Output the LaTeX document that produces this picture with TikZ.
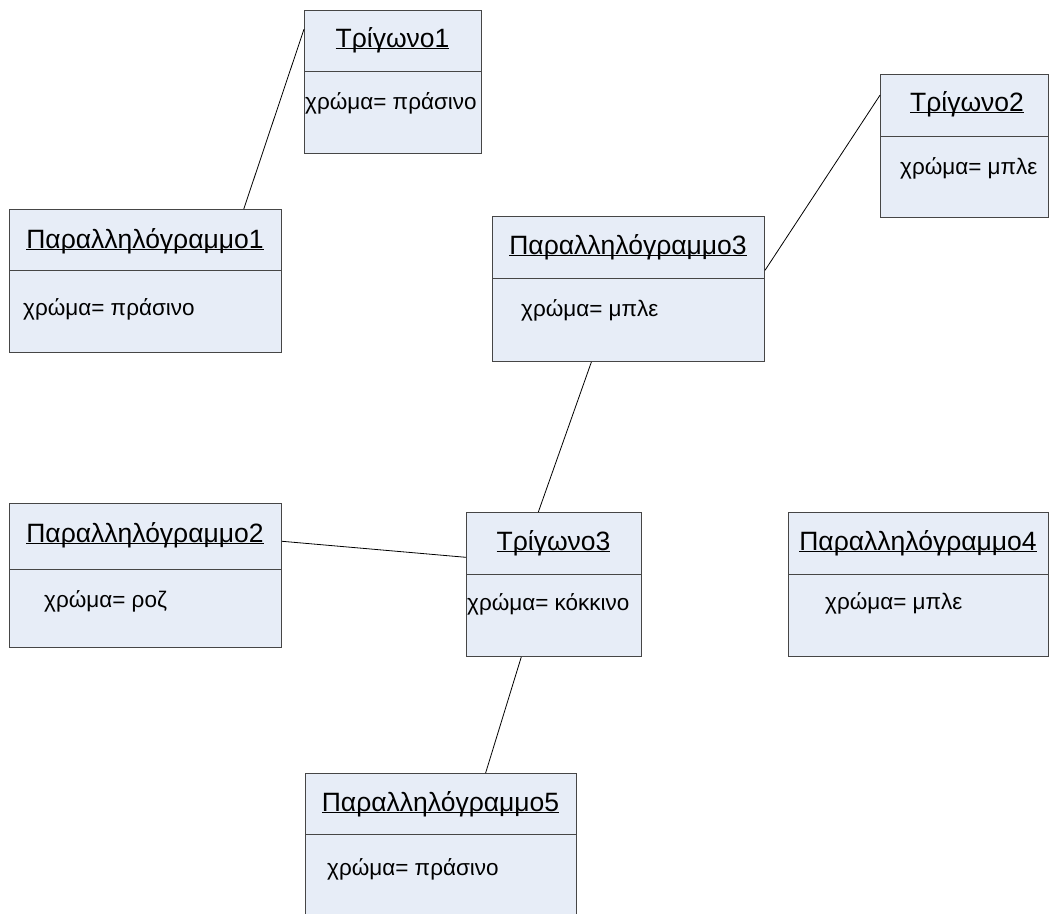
\documentclass[tikz,border=0pt]{standalone}
\usepackage{fontspec}
\setmainfont{Liberation Sans}
\usetikzlibrary{calc}
\definecolor{boxfill}{RGB}{231,237,247}
\definecolor{boxline}{RGB}{70,70,70}
% underline drawn close under the baseline, through the descenders
\newcommand\titleul[1]{\setbox0\hbox{#1}\rlap{\rule[-1.6pt]{\wd0}{1.1pt}}\box0}
\begin{document}
\begin{tikzpicture}[x=1pt,y=-1pt,
  obj/.style={draw=boxline, fill=boxfill, line width=1pt, inner sep=0pt,
              anchor=north west},
  divider/.style={draw=boxline, line width=1pt},
  title/.style={inner sep=0pt, anchor=mid, font=\fontsize{26.5}{30}\selectfont},
  attr/.style={inner sep=0pt, anchor=mid west, font=\fontsize{22.5}{27}\selectfont},
  link/.style={draw=black, line width=0.8pt}]
\useasboundingbox (0,0) rectangle (1049,913);
\clip (0,0) rectangle (1049,913);

% object boxes
\node[obj, minimum width=177pt, minimum height=143pt] (t1) at (304,10) {};
\draw[divider] (304,71) -- (481,71);
\node[title] (t1n) at (392.5,45) {\titleul{Τρίγωνο1}};
\node[attr] (t1a) at (305,107) {χρώμα= πράσινο};

\node[obj, minimum width=168pt, minimum height=143pt] (t2) at (880,74) {};
\draw[divider] (880,136) -- (1048,136);
\node[title] (t2n) at (967,109) {\titleul{Τρίγωνο2}};
\node[attr] (t2a) at (900,172) {χρώμα= μπλε};

\node[obj, minimum width=272pt, minimum height=143pt] (p1) at (9,209) {};
\draw[divider] (9,270) -- (281,270);
\node[title] (p1n) at (145,245.5) {\titleul{Παραλληλόγραμμο1}};
\node[attr] (p1a) at (23,313) {χρώμα= πράσινο};

\node[obj, minimum width=272pt, minimum height=145pt] (p3) at (492,216) {};
\draw[divider] (492,278) -- (764,278);
\node[title] (p3n) at (628,252) {\titleul{Παραλληλόγραμμο3}};
\node[attr] (p3a) at (521,314) {χρώμα= μπλε};

\node[obj, minimum width=272pt, minimum height=144pt] (p2) at (9,503) {};
\draw[divider] (9,569) -- (281,569);
\node[title] (p2n) at (145,540) {\titleul{Παραλληλόγραμμο2}};
\node[attr] (p2a) at (44,605) {χρώμα= ροζ};

\node[obj, minimum width=175pt, minimum height=144pt] (t3) at (466,512) {};
\draw[divider] (466,574) -- (641,574);
\node[title] (t3n) at (553.5,548) {\titleul{Τρίγωνο3}};
\node[attr] (t3a) at (467,608) {χρώμα= κόκκινο};

\node[obj, minimum width=260pt, minimum height=144pt] (p4) at (788,512) {};
\draw[divider] (788,574) -- (1048,574);
\node[title] (p4n) at (918,548) {\titleul{Παραλληλόγραμμο4}};
\node[attr] (p4a) at (825,606.5) {χρώμα= μπλε};

\node[obj, minimum width=271pt, minimum height=150pt] (p5) at (305,773) {};
\draw[divider] (305,834) -- (576,834);
\node[title] (p5n) at (440.5,809) {\titleul{Παραλληλόγραμμο5}};
\node[attr] (p5a) at (327,873) {χρώμα= πράσινο};

% links between the objects
\draw[link] ($(t1.north west)!0.133!(t1.south west)$) -- ($(p1.north west)!0.86!(p1.north east)$);
\draw[link] ($(t2.north west)!0.147!(t2.south west)$) -- ($(p3.north east)!0.372!(p3.south east)$);
\draw[link] ($(p3.south west)!0.364!(p3.south east)$) -- ($(t3.north west)!0.411!(t3.north east)$);
\draw[link] ($(p2.north east)!0.264!(p2.south east)$) -- ($(t3.north west)!0.3125!(t3.south west)$);
\draw[link] ($(t3.south west)!0.314!(t3.south east)$) -- ($(p5.north west)!0.664!(p5.north east)$);
\end{tikzpicture}
\end{document}
